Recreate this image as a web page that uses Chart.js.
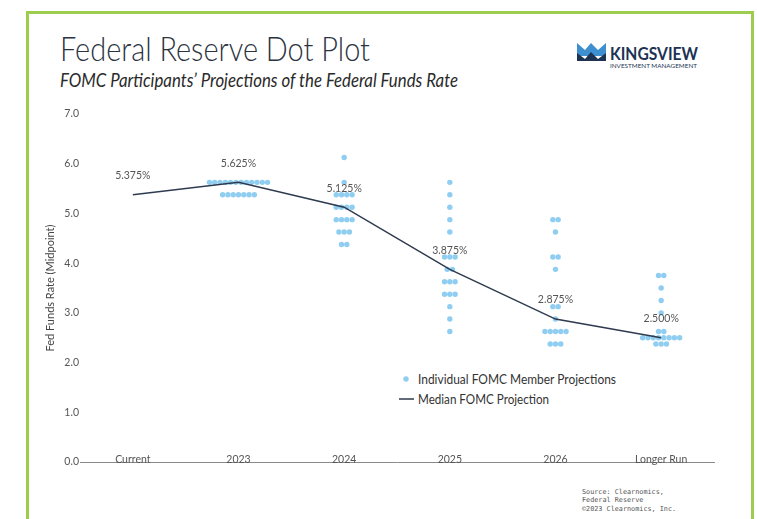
<!DOCTYPE html>
<html>
<head>
<meta charset="utf-8">
<script src="https://cdn.jsdelivr.net/npm/chart.js@4.4.1/dist/chart.umd.min.js"></script>
<style>
  html, body { margin: 0; padding: 0; background: #fff; }
  #wrap { position: relative; width: 757px; height: 519px; overflow: hidden; }
  #frame { position: absolute; left: 26px; top: 11px; width: 728px; height: 530px;
           border: 3px solid #9dcd4e; box-sizing: border-box; }
  svg, canvas { position: absolute; left: 0; top: 0; }
</style>
</head>
<body>
<div id="wrap">
  <div id="frame"></div>
  <svg width="757" height="519" xmlns="http://www.w3.org/2000/svg">
    <text x="60" y="60.5" font-family="Lato" font-weight="300" font-size="32.5" fill="#2b3340"
          textLength="310" lengthAdjust="spacingAndGlyphs">Federal Reserve Dot Plot</text>
    <text x="60" y="86.5" font-family="Lato" font-style="italic" font-size="18.5" fill="#2a2a2a"
          textLength="398" lengthAdjust="spacingAndGlyphs">FOMC Participants’ Projections of the Federal Funds Rate</text>

    <!-- logo -->
    <polygon points="577,43 585,50 591,43 598,50 606,43 606,56 577,56" fill="#3d8fd0"/>
    <polygon points="577,53 585,59 591,52 598,59 606,53 606,61 577,61" fill="#1c3354"/>
    <text x="610" y="60" font-family="Lato" font-weight="700" font-size="16.5" fill="#1c3354"
          textLength="88" lengthAdjust="spacingAndGlyphs">KINGSVIEW</text>
    <text x="610" y="67.5" font-family="Lato" font-size="5.8" fill="#1c3354"
          textLength="87" lengthAdjust="spacingAndGlyphs">INVESTMENT MANAGEMENT</text>

    <!-- legend -->
    <circle cx="406" cy="379" r="2.7" fill="#8fcdf1"/>
    <text x="418" y="383.5" font-family="Lato" font-size="13" fill="#333"
          textLength="198" lengthAdjust="spacingAndGlyphs">Individual FOMC Member Projections</text>
    <line x1="399" y1="399" x2="414" y2="399" stroke="#2e3a4e" stroke-width="1.5"/>
    <text x="418" y="403.5" font-family="Lato" font-size="13" fill="#333"
          textLength="131" lengthAdjust="spacingAndGlyphs">Median FOMC Projection</text>

    <!-- source -->
    <text x="582" y="493.5" font-family="DejaVu Sans Mono" font-size="6.8" fill="#555">Source: Clearnomics,</text>
    <text x="582" y="502" font-family="DejaVu Sans Mono" font-size="6.8" fill="#555">Federal Reserve</text>
    <text x="582" y="510.5" font-family="DejaVu Sans Mono" font-size="6.8" fill="#555">©2023 Clearnomics, Inc.</text>
  </svg>
  <canvas id="chart" width="757" height="519"></canvas>
</div>

<script>
const categories = ['Current', '2023', '2024', '2025', '2026', 'Longer Run'];
const medians = [5.375, 5.625, 5.125, 3.875, 2.875, 2.5];
const yTicks = [0, 1, 2, 3, 4, 5, 6, 7];

// individual participant projections (one entry per dot)
const dotsCurrent = [];
const dots2023 = [5.625, 5.625, 5.625, 5.625, 5.625, 5.625, 5.625, 5.625, 5.625, 5.625, 5.625, 5.625,
                  5.375, 5.375, 5.375, 5.375, 5.375, 5.375, 5.375];
const dots2024 = [6.125, 5.625, 5.375, 5.375, 5.375, 5.375, 5.125, 5.125, 5.125, 5.125,
                  4.875, 4.875, 4.875, 4.875, 4.625, 4.625, 4.625, 4.375, 4.375];
const dots2025 = [5.625, 5.375, 5.125, 4.875, 4.625, 4.125, 4.125, 4.125, 3.875, 3.875,
                  3.625, 3.625, 3.625, 3.375, 3.375, 3.375, 3.125, 2.875, 2.625];
const dots2026 = [4.875, 4.875, 4.625, 4.125, 4.125, 3.875, 3.125, 3.125, 2.875,
                  2.625, 2.625, 2.625, 2.625, 2.625, 2.375, 2.375, 2.375];
const dotsLongerRun = [3.75, 3.75, 3.5, 3.25, 3.0, 2.625, 2.625,
                       2.5, 2.5, 2.5, 2.5, 2.5, 2.5, 2.5, 2.5, 2.375, 2.375, 2.375];

const allDots = [dotsCurrent, dots2023, dots2024, dots2025, dots2026, dotsLongerRun];

// spread dots that share a value side by side around the category centre
const DOT_STEP = 0.05;
function buildDots() {
  const pts = [];
  allDots.forEach((vals, i) => {
    const counts = {};
    vals.forEach(v => { counts[v] = (counts[v] || 0) + 1; });
    Object.keys(counts).forEach(k => {
      const n = counts[k];
      for (let j = 0; j < n; j++) {
        pts.push({ x: i + (j - (n - 1) / 2) * DOT_STEP, y: Number(k) });
      }
    });
  });
  return pts;
}

// median value labels + category labels sitting on the axis line
const extraLabels = {
  id: 'extraLabels',
  afterDatasetsDraw(chart) {
    const ctx = chart.ctx;
    const xs = chart.scales.x, ys = chart.scales.y;
    ctx.save();
    ctx.font = '10.5px Lato';
    ctx.fillStyle = '#555';
    ctx.textAlign = 'center';
    ctx.textBaseline = 'middle';
    medians.forEach((v, i) => {
      ctx.fillText(v.toFixed(3) + '%', xs.getPixelForValue(i), ys.getPixelForValue(v) - 19);
    });
    ctx.textBaseline = 'alphabetic';
    categories.forEach((c, i) => {
      ctx.fillText(c, xs.getPixelForValue(i), chart.chartArea.bottom + 1);
    });
    ctx.restore();
  }
};

new Chart(document.getElementById('chart'), {
  data: {
    datasets: [
      {
        type: 'line',
        label: 'Median FOMC Projection',
        data: medians.map((v, i) => ({ x: i, y: v })),
        borderColor: '#2e3a4e',
        borderWidth: 1.5,
        pointRadius: 0,
        tension: 0
      },
      {
        type: 'scatter',
        label: 'Individual FOMC Member Projections',
        data: buildDots(),
        backgroundColor: '#8fcdf1',
        borderWidth: 0,
        pointRadius: 2.7
      }
    ]
  },
  options: {
    responsive: false,
    animation: false,
    layout: { padding: { left: 38, right: 43, top: 114, bottom: 45 } },
    plugins: { legend: { display: false }, tooltip: { enabled: false } },
    scales: {
      x: {
        type: 'linear',
        min: -0.5,
        max: 5.5,
        afterBuildTicks: s => { s.ticks = categories.map((c, i) => ({ value: i })); },
        afterFit: s => { s.height = 12; },
        grid: { display: false, drawTicks: false },
        border: { display: true, color: '#8a8a8a', width: 1 },
        ticks: { display: false }
      },
      y: {
        min: 0,
        max: 7,
        afterBuildTicks: s => { s.ticks = yTicks.map(v => ({ value: v })); },
        afterFit: s => { s.width = 42; },
        grid: { display: false, drawTicks: false },
        border: { display: false },
        ticks: {
          callback: v => v.toFixed(1),
          font: { family: 'Lato', size: 10.5 },
          color: '#555',
          padding: 1
        },
        title: {
          display: true,
          text: 'Fed Funds Rate (Midpoint)',
          font: { family: 'Lato', size: 11 },
          color: '#444',
          padding: { top: 6, bottom: 0 }
        }
      }
    }
  },
  plugins: [extraLabels]
});
</script>
</body>
</html>
